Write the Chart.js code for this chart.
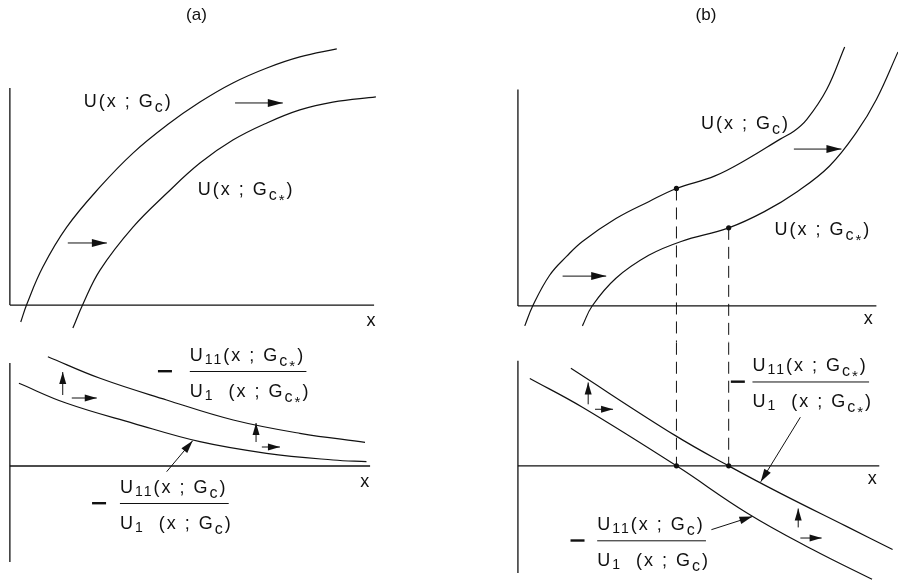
<!DOCTYPE html>
<html>
<head>
<meta charset="utf-8">
<script src="https://cdn.jsdelivr.net/npm/chart.js@4"></script>
<style>
  html, body { margin: 0; padding: 0; background: #fff; }
  #wrap { position: relative; width: 902px; height: 586px; }
  #colA { position: absolute; left: 0; top: 0; }
  #colB { position: absolute; left: 450px; top: 0; }
</style>
</head>
<body>
<div id="wrap">
  <canvas id="colA" width="450" height="586"></canvas>
  <canvas id="colB" width="452" height="586"></canvas>
</div>
<script>
// (a) upper plot: utility curves
const aU = [[0.30, -0.78], [0.47, 0.05], [0.91, 1.75], [1.57, 3.59], [2.49, 5.44], [3.40, 7.00],
  [4.34, 8.29], [5.25, 9.35], [6.16, 10.23], [7.10, 10.92], [8.01, 11.43], [9.03, 11.80]];
const aUstar = [[1.74, -1.06], [2.02, 0.05], [2.49, 1.61], [3.40, 3.59], [4.34, 5.16], [5.25, 6.54],
  [6.16, 7.60], [7.10, 8.39], [8.01, 8.99], [8.92, 9.35], [10.11, 9.59]];
// (a) lower plot: -U11/U1
const aR = [[0.25, 8.27], [1.57, 6.27], [3.41, 4.27], [5.25, 2.43], [7.09, 1.27], [8.93, 0.60], [9.85, 0.43]];
const aRstar = [[1.05, 10.93], [2.49, 8.77], [4.33, 6.60], [6.17, 4.60], [8.01, 3.27], [9.81, 2.37]];

// (b) upper plot
const bU = [[0.19, -0.92], [0.41, 0], [0.88, 1.42], [1.35, 2.29], [1.79, 2.98], [2.72, 4.04], [3.63, 4.82],
  [4.40, 5.43], [5.47, 6.01], [6.37, 6.79], [7.28, 7.71], [7.66, 8.07], [8.02, 8.62], [8.57, 10.0], [9.07, 11.97]];
const bUstar = [[1.79, -0.92], [2.06, 0], [2.72, 1.28], [3.63, 2.34], [4.53, 2.98], [5.85, 3.61],
  [6.84, 4.36], [7.75, 5.28], [8.65, 6.47], [9.40, 8.03], [9.95, 9.54], [10.55, 11.74]];
// (b) lower plot
const bR = [[0.33, 8.8], [1.79, 5.9], [4.40, 0], [6.37, -4.77], [8.18, -8.43], [9.83, -11.43]];
const bRstar = [[1.47, 9.83], [4.36, 3.07], [5.85, 0], [7.29, -2.77], [9.12, -6.1], [10.40, -8.43]];

// marked points in (b): where each ratio curve crosses zero
const bMarkX = [4.40, 5.85];
const bMarkTopY = [5.43, 3.61];

// axis extents [x end, y top, y bottom]
const aTopAxis = [10.06, 10.0, 0];
const aBotAxis = [9.95, 10.3, -9.6];
const bTopAxis = [9.95, 10.0, 0];
const bBotAxis = [10.03, 10.6, -10.8];

// shift arrows [x0, y0, x1, y1]
const aTopArrows = [[6.22, 9.31, 7.54, 9.31], [1.60, 2.86, 2.68, 2.86]];
const aBotArrows = [[1.46, 7.1, 1.46, 9.4], [1.71, 6.8, 2.40, 6.8], [6.80, 2.4, 6.80, 4.3], [6.96, 1.9, 7.46, 1.9]];
const aPointers = [[4.33, -0.57, 5.05, 2.53]];
const bTopArrows = [[7.66, 7.25, 8.98, 7.25], [1.24, 1.38, 2.45, 1.38]];
const bBotArrows = [[1.95, 6.2, 1.95, 8.4], [2.14, 5.7, 2.64, 5.7], [7.78, -6.2, 7.78, -4.3], [7.84, -7.27, 8.43, -7.27]];
const bPointers = [[7.84, 4.9, 6.74, -1.6], [5.37, -6.43, 6.51, -5.1]];

const INK = '#111';
const FONT = '"Liberation Sans", Arial, sans-serif';
Chart.defaults.font.family = FONT;
Chart.defaults.color = INK;

const pts = arr => arr.map(([x, y]) => ({ x, y }));

function curve(data, axis) {
  return { data: pts(data), yAxisID: axis, borderColor: INK, borderWidth: 1.2, tension: 0.4, pointRadius: 0 };
}
function straight(data, axis, extra) {
  return Object.assign({ data: pts(data), yAxisID: axis, borderColor: INK, borderWidth: 1.2, pointRadius: 0 }, extra || {});
}
function axesFor(ext, axis) {
  return [
    straight([[0, ext[1]], [0, ext[2]]], axis, { borderWidth: 1.3 }),
    straight([[0, 0], [ext[0], 0]], axis, { borderWidth: 1.3 })
  ];
}
function arrows(list, axis, head) {
  return list.map(a => straight([[a[0], a[1]], [a[2], a[3]]], axis, { borderWidth: 1, head }));
}

// rich text labels: '_' marks a subscript, '^' the starred subscript
const U_Gc = ['U(x ; G', '_c', ')'];
const U_Gcs = ['U(x ; G', '_c', '^*', ')'];
const U11_Gc = ['U', '_11', '(x ; G', '_c', ')'];
const U11_Gcs = ['U', '_11', '(x ; G', '_c', '^*', ')'];
const U1_Gc = ['U', '_1', '  (x ; G', '_c', ')'];
const U1_Gcs = ['U', '_1', '  (x ; G', '_c', '^*', ')'];

function drawRich(ctx, x, y, parts) {
  let cx = x;
  ctx.textAlign = 'left';
  ctx.textBaseline = 'alphabetic';
  for (const p of parts) {
    let t = p, size = 18, dy = 0;
    if (p[0] === '_') { t = p.slice(1); size = p === '_c' ? 16 : 14; dy = p === '_c' ? 5 : 3; }
    else if (p[0] === '^') { t = p.slice(1); size = 15; dy = 10; }
    ctx.font = size + 'px ' + FONT;
    ctx.fillText(t, cx, y + dy);
    cx += ctx.measureText(t).width;
  }
  return cx - x;
}

const labelPlugin = {
  id: 'labels',
  afterDraw(chart) {
    const ctx = chart.ctx;
    const xs = chart.scales.x;
    ctx.save();
    ctx.fillStyle = INK;
    ctx.strokeStyle = INK;
    if ('letterSpacing' in ctx) ctx.letterSpacing = '2px';
    for (const l of chart.options.plugins.labels.items) {
      const ys = chart.scales[l.s];
      const px = xs.getPixelForValue(l.x);
      const py = ys.getPixelForValue(l.y);
      if (l.text) {
        ctx.font = '18px ' + FONT;
        ctx.textAlign = 'center';
        ctx.textBaseline = 'middle';
        ctx.fillText(l.text, px, py);
      } else if (l.num) {
        const fx = xs.getPixelForValue(l.xf);
        const wn = drawRich(ctx, fx, py - 10, l.num);
        const wd = drawRich(ctx, fx, py + 26, l.den);
        ctx.lineWidth = 1;
        ctx.beginPath();
        ctx.moveTo(fx, py + 0.5);
        ctx.lineTo(fx + Math.max(wn, wd) - 4, py + 0.5);
        ctx.stroke();
        ctx.fillRect(px, py - 1, 14, 2.4);
      } else {
        drawRich(ctx, px, py, l.parts);
      }
    }
    ctx.restore();
  }
};

const arrowHeads = {
  id: 'arrowHeads',
  afterDatasetsDraw(chart) {
    const ctx = chart.ctx;
    chart.data.datasets.forEach((ds, i) => {
      if (!ds.head) return;
      const el = chart.getDatasetMeta(i).data;
      const a = el[el.length - 2], b = el[el.length - 1];
      const ang = Math.atan2(b.y - a.y, b.x - a.x);
      ctx.save();
      ctx.translate(b.x, b.y);
      ctx.rotate(ang);
      ctx.beginPath();
      ctx.moveTo(0, 0);
      ctx.lineTo(-ds.head[0], -ds.head[1]);
      ctx.lineTo(-ds.head[0], ds.head[1]);
      ctx.closePath();
      ctx.fillStyle = INK;
      ctx.fill();
      ctx.restore();
    });
  }
};

function makeColumn(id, title, datasets, xr, yTop, yBot, pad, labels) {
  return new Chart(document.getElementById(id), {
    type: 'line',
    data: { datasets },
    options: {
      responsive: false,
      animation: false,
      events: [],
      layout: { padding: pad },
      elements: { point: { radius: 0 }, line: { tension: 0 } },
      scales: {
        x: { type: 'linear', min: xr[0], max: xr[1], display: false },
        yTop: { type: 'linear', position: 'left', stack: 'col', stackWeight: 305, weight: 2,
          min: yTop[0], max: yTop[1], display: false },
        yBot: { type: 'linear', position: 'left', stack: 'col', stackWeight: 241, weight: 1,
          min: yBot[0], max: yBot[1], display: false }
      },
      plugins: {
        legend: { display: false },
        tooltip: { enabled: false },
        title: { display: true, text: title, font: { size: 17, weight: 'normal' }, color: INK,
          padding: { top: 5, bottom: 14.6 } },
        labels: { items: labels }
      }
    },
    plugins: [arrowHeads, labelPlugin]
  });
}

// column (a)
makeColumn('colA', '(a)', [
  ...axesFor(aTopAxis, 'yTop'),
  ...axesFor(aBotAxis, 'yBot'),
  curve(aU, 'yTop'), curve(aUstar, 'yTop'),
  curve(aR, 'yBot'), curve(aRstar, 'yBot'),
  ...arrows(aTopArrows, 'yTop', [15, 4]),
  ...arrows(aBotArrows, 'yBot', [12, 3.5]),
  ...arrows(aPointers, 'yBot', [13, 3.8])
], [-0.19, 10.5], [-1.84, 12.21], [-12.0, 12.1], { left: 3, right: 60, top: 0, bottom: 0 }, [
  { s: 'yTop', x: 2.04, y: 9.12, parts: U_Gc },
  { s: 'yTop', x: 5.19, y: 5.07, parts: U_Gcs },
  { s: 'yTop', x: 10.0, y: -0.74, text: 'x' },
  { s: 'yBot', x: 9.83, y: -1.6, text: 'x' },
  { s: 'yBot', x: 4.09, xf: 4.97, y: 9.5, num: U11_Gcs, den: U1_Gcs },
  { s: 'yBot', x: 2.27, xf: 3.04, y: -3.7, num: U11_Gc, den: U1_Gc }
]);

// column (b)
const dashTop = bMarkX.map((x, i) => straight([[x, bMarkTopY[i]], [x, -1.7]], 'yTop', { borderWidth: 1, borderDash: [12, 7] }));
const dashBot = bMarkX.map(x => straight([[x, 12.4], [x, 0]], 'yBot', { borderWidth: 1, borderDash: [12, 7] }));
const dots = (ys, axis) => ({ data: bMarkX.map((x, i) => ({ x, y: ys[i] })), yAxisID: axis, showLine: false,
  pointRadius: 2.6, pointBackgroundColor: INK, pointBorderWidth: 0 });

makeColumn('colB', '(b)', [
  ...axesFor(bTopAxis, 'yTop'),
  ...axesFor(bBotAxis, 'yBot'),
  curve(bU, 'yTop'), curve(bUstar, 'yTop'),
  curve(bR, 'yBot'), curve(bRstar, 'yBot'),
  ...dashTop, ...dashBot,
  dots(bMarkTopY, 'yTop'), dots([0, 0], 'yBot'),
  ...arrows(bTopArrows, 'yTop', [15, 4]),
  ...arrows(bBotArrows, 'yBot', [12, 3.5]),
  ...arrows(bPointers, 'yBot', [13, 3.8])
], [-0.22, 10.55], [-1.70, 12.29], [-11.7, 12.4], { left: 60, right: 0, top: 0, bottom: 0 }, [
  { s: 'yTop', x: 5.08, y: 8.17, parts: U_Gc },
  { s: 'yTop', x: 7.12, y: 3.26, parts: U_Gcs },
  { s: 'yTop', x: 9.75, y: -0.6, text: 'x' },
  { s: 'yBot', x: 9.86, y: -1.3, text: 'x' },
  { s: 'yBot', x: 5.91, xf: 6.51, y: 8.5, num: U11_Gcs, den: U1_Gcs },
  { s: 'yBot', x: 1.46, xf: 2.20, y: -7.5, num: U11_Gc, den: U1_Gc }
]);
</script>
</body>
</html>
